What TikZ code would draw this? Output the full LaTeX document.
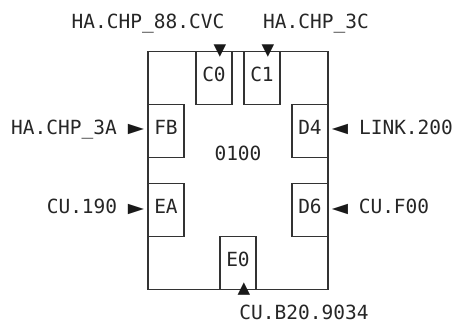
\documentclass[tikz,border=0pt]{standalone}
\usepackage{fontspec}
\setmonofont{DejaVu Sans Mono}

\tikzset{
    frame/.style={line width=1.1pt, draw=black!80},
    port/.style={frame, minimum width=36pt, minimum height=52.8pt, inner sep=0pt,
        font=\ttfamily\fontsize{19.5}{20}\selectfont, text=black!85,
        text height=0.73em, text depth=0pt},
    lbl/.style={inner sep=0pt, font=\ttfamily\fontsize{19.5}{20}\selectfont,
        text=black!85, text height=0.73em, text depth=0pt},
    tri/.style={inner sep=0pt, font=\ttfamily\fontsize{21}{22}\selectfont, text=black!90},
    ptr/.style={inner sep=0pt, font=\ttfamily\fontsize{27}{28}\selectfont, text=black!90},
}

\begin{document}
\begin{tikzpicture}[x=12pt, y=-26.4pt]
    \useasboundingbox (-12.333,-0.951) rectangle (25.667,11.473);

    % outer frame of the unit
    \draw [frame]
        (0,1) rectangle (15,10)
        ;

    \node [lbl] (unit) at (7.5,5) {0100};

    % ports along the frame
    \node [port] (c0) at (5.5,2) {C0};
    \node [port] (c1) at (9.5,2) {C1};
    \node [port] (fb) at (1.5,4) {FB};
    \node [port] (ea) at (1.5,7) {EA};
    \node [port] (d4) at (13.5,4) {D4};
    \node [port] (d6) at (13.5,7) {D6};
    \node [port] (e0) at (7.5,9) {E0};

    % markers
    \node [tri] (mc0) at (6,1) {▼};
    \node [tri] (mc1) at (10,1) {▼};
    \node [ptr] (mfb) at (-1,4) {►};
    \node [ptr] (mea) at (-1,7) {►};
    \node [ptr] (md4) at (16,4) {◄};
    \node [ptr] (md6) at (16,7) {◄};
    \node [tri] (me0) at (8,10) {▲};

    % attached names
    \node [lbl] (nc0) at (0,0) {HA.CHP\_88.CVC};
    \node [lbl] (nc1) at (14,0) {HA.CHP\_3C};
    \node [lbl] (nfb) at (-7,4) {HA.CHP\_3A};
    \node [lbl] (nea) at (-5.5,7) {CU.190};
    \node [lbl] (nd4) at (21.5,4) {LINK.200};
    \node [lbl] (nd6) at (20.5,7) {CU.F00};
    \node [lbl] (ne0) at (13,11) {CU.B20.9034};
\end{tikzpicture}
\end{document}
